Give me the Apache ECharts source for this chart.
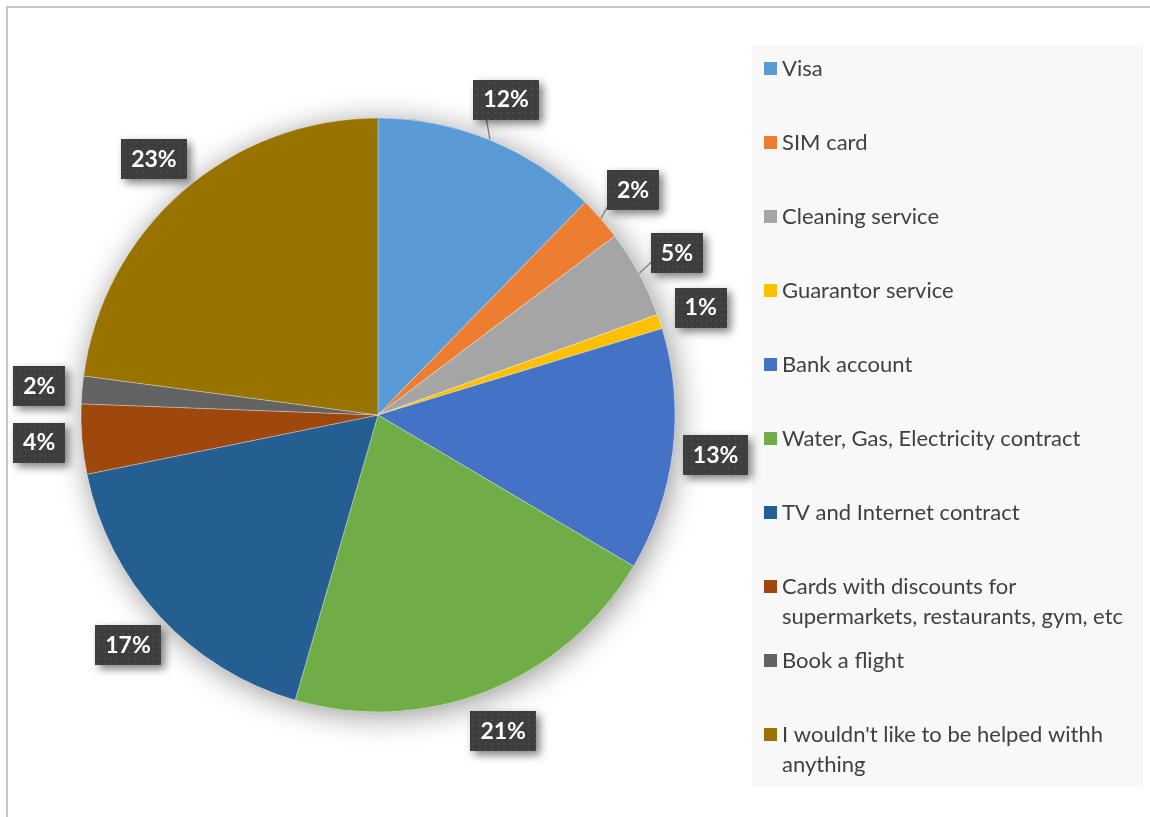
<!DOCTYPE html>
<html><head><meta charset="utf-8">
<script src="https://cdn.jsdelivr.net/npm/echarts@6/dist/echarts.min.js"></script>
<style>html,body{margin:0;padding:0;background:#fff}#c{width:1150px;height:817px}</style>
</head><body><div id="c"></div>
<script>
const categories = ['Visa','SIM card','Cleaning service','Guarantor service','Bank account','Water, Gas, Electricity contract','TV and Internet contract','Cards with discounts for supermarkets, restaurants, gym, etc','Book a flight',"I wouldn't like to be helped withh anything"];
const legendLabels = ['Visa','SIM card','Cleaning service','Guarantor service','Bank account','Water, Gas, Electricity contract','TV and Internet contract','Cards with discounts for\nsupermarkets, restaurants, gym, etc','Book a flight',"I wouldn't like to be helped withh\nanything"];
const values = [12.3, 2.4, 4.8, 0.8, 13.2, 21.0, 17.3, 3.8, 1.5, 22.9];
const colors = ['#5B9BD5','#ED7D31','#A5A5A5','#FFC000','#4472C4','#70AD47','#255E91','#9E480E','#636363','#997300'];
const leaderLines = [true, true, true, false, false, false, false, false, false, false];

const CX = 378, CY = 415, R = 297, LABEL_R = R + 43;
const total = values.reduce((a, b) => a + b, 0);
const midAngles = [];
{ let acc = 0; values.forEach(v => { midAngles.push((acc + v / 2) / total * Math.PI * 2); acc += v; }); }

// dotted dark texture for the data labels
const tex = document.createElement('canvas');
tex.width = 64; tex.height = 40;
{
  const g = tex.getContext('2d');
  g.fillStyle = '#3d3d3d'; g.fillRect(0, 0, tex.width, tex.height);
  g.fillStyle = '#4b4b4b';
  for (let y = 2; y < tex.height; y += 6) for (let x = 2; x < tex.width; x += 6) g.fillRect(x, y, 2, 2);
}

const FONT = 'Lato, "Open Sans", sans-serif';
const chart = echarts.init(document.getElementById('c'), null, {renderer: 'canvas'});

const LINE_H = 30;
const legends = categories.map((name, i) => {
  const multi = legendLabels[i].indexOf('\n') >= 0;
  const firstLine = 68.5 + i * 74;
  return {
    data: [{name: name, icon: multi ? 'path://M0,0H13V13H0Z M0,43L13,43' : 'rect'}],
    orient: 'vertical',
    left: 764,
    top: firstLine - 15,
    padding: 0,
    itemWidth: 13,
    itemHeight: multi ? 13 + LINE_H : 13,
    itemGap: 0,
    selectedMode: false,
    itemStyle: {borderWidth: 0},
    formatter: () => legendLabels[i],
    textStyle: {fontFamily: FONT, fontSize: 22, color: '#404040', lineHeight: LINE_H}
  };
});

chart.setOption({
  animation: false,
  backgroundColor: '#fff',
  graphic: [
    {type: 'rect', z: -10, shape: {x: 7, y: 7, width: 1200, height: 900}, style: {fill: 'none', stroke: '#c8c8c8', lineWidth: 2}},
    {type: 'rect', z: -9, shape: {x: 752, y: 45, width: 391, height: 742}, style: {fill: '#f8f8f8'}}
  ],
  legend: legends,
  series: [
    {
      type: 'pie', silent: true, center: [CX, CY], radius: R, z: 1,
      label: {show: false}, labelLine: {show: false},
      data: [{value: 1, name: '__shadow', itemStyle: {color: '#ffffff', shadowBlur: 30, shadowColor: 'rgba(0,0,0,0.42)', shadowOffsetX: 3, shadowOffsetY: 4}}]
    },
    {
      type: 'pie', center: [CX, CY], radius: R, startAngle: 90, clockwise: true, z: 2,
      avoidLabelOverlap: false,
      itemStyle: {borderColor: 'rgba(255,255,255,0.5)', borderWidth: 0.6},
      label: {
        show: true, position: 'outside',
        formatter: p => Math.round(p.percent) + '%',
        color: '#fff', fontFamily: FONT, fontWeight: 'bold', fontSize: 23,
        backgroundColor: {image: tex}, padding: [9, 10, 8, 10],
        shadowColor: 'rgba(0,0,0,0.5)', shadowBlur: 8, shadowOffsetX: 4, shadowOffsetY: 4
      },
      labelLine: {show: false, length: 10, length2: 0, lineStyle: {color: '#808080', width: 1.3}},
      labelLayout: function (params) {
        const a = midAngles[params.dataIndex];
        return {x: CX + LABEL_R * Math.sin(a), y: CY - LABEL_R * Math.cos(a), align: 'center', verticalAlign: 'middle'};
      },
      data: categories.map((name, i) => ({
        name: name, value: values[i],
        itemStyle: {color: colors[i]},
        labelLine: {show: leaderLines[i]}
      }))
    }
  ]
});
</script></body></html>
